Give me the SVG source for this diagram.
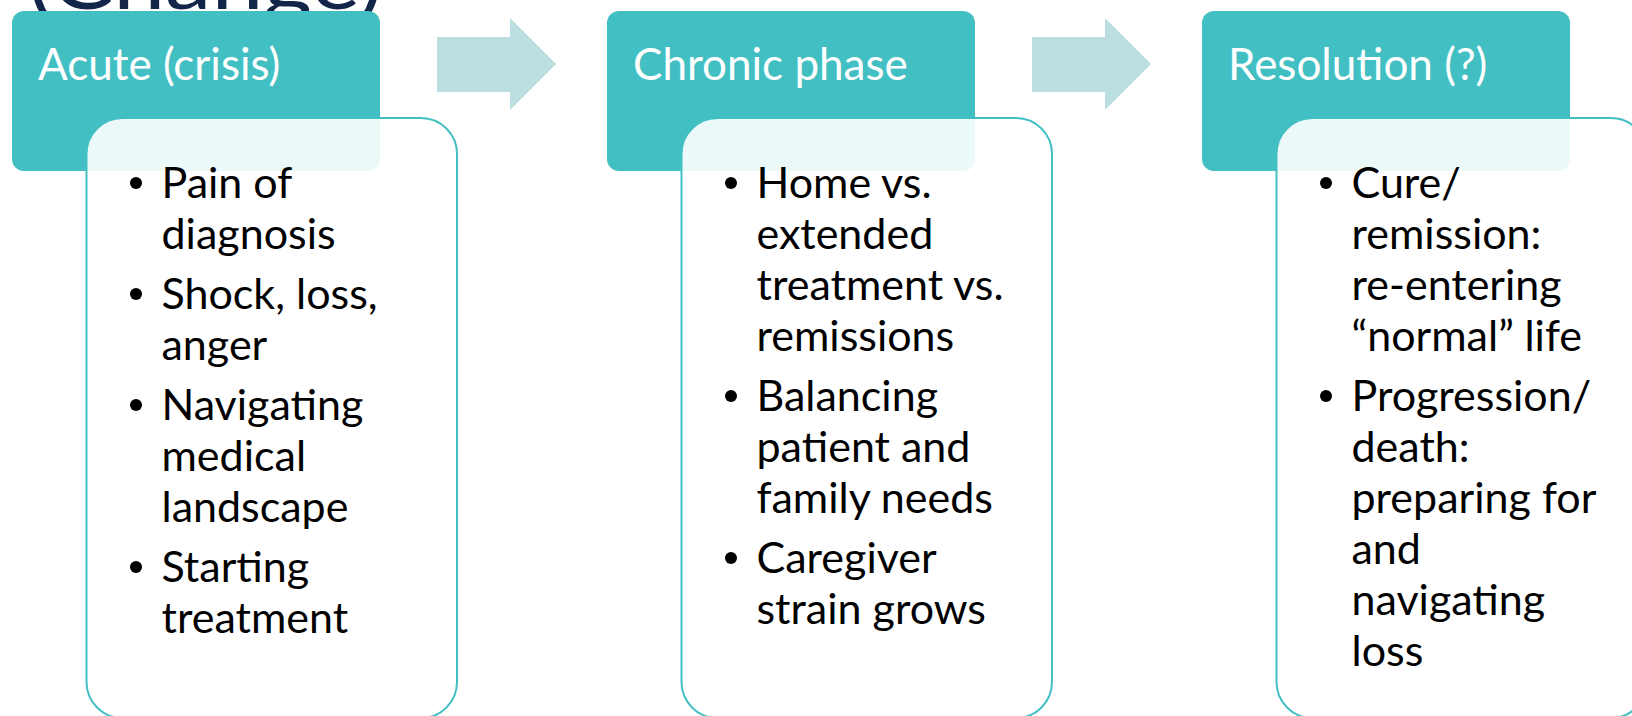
<svg xmlns="http://www.w3.org/2000/svg" width="1632" height="716" viewBox="0 0 1632 716">
  <style>
    .title { font-family: Lato, "Open Sans", sans-serif; font-size: 80px; fill: #14254a; }
    .head { fill: #42bfc3; }
    .head-label { font-family: Lato, "Liberation Sans", sans-serif; font-size: 44px; fill: #ffffff; }
    .card { fill: #ffffff; fill-opacity: 0.9; stroke: #42bfc3; stroke-width: 2; }
    .item { font-family: Lato, "Liberation Sans", sans-serif; font-size: 43px; fill: #000000; }
    .dot { fill: #000000; }
    .flow { fill: #bbdee0; }
  </style>

  <!-- slide title, mostly above the visible area -->
  <text class="title" x="28" y="9" textLength="355" lengthAdjust="spacingAndGlyphs">(Change)</text>

  <!-- connectors between the phases -->
  <g id="connectors">
    <polygon class="flow" points="437,37 510,37 510,18 556,64 510,110 510,92 437,92"/>
    <polygon class="flow" points="1032,37 1105,37 1105,18 1151,64 1105,110 1105,92 1032,92"/>
  </g>

  <!-- phase 1 -->
  <g id="phase-acute">
    <rect class="head" x="12" y="11" width="368" height="160" rx="12"/>
    <text class="head-label" x="38" y="80">Acute (crisis)</text>
    <rect class="card" x="86.5" y="118" width="370.5" height="600" rx="36"/>
    <circle class="dot" cx="136" cy="183" r="6"/>
    <circle class="dot" cx="136" cy="294" r="6"/>
    <circle class="dot" cx="136" cy="405" r="6"/>
    <circle class="dot" cx="136" cy="567" r="6"/>
    <text class="item">
      <tspan x="161.5" y="198">Pain of</tspan>
      <tspan x="161.5" y="249">diagnosis</tspan>
      <tspan x="161.5" y="309">Shock, loss,</tspan>
      <tspan x="161.5" y="360">anger</tspan>
      <tspan x="161.5" y="420">Navigating</tspan>
      <tspan x="161.5" y="471">medical</tspan>
      <tspan x="161.5" y="522">landscape</tspan>
      <tspan x="161.5" y="582">Starting</tspan>
      <tspan x="161.5" y="633">treatment</tspan>
    </text>
  </g>

  <!-- phase 2 -->
  <g id="phase-chronic">
    <rect class="head" x="607" y="11" width="368" height="160" rx="12"/>
    <text class="head-label" x="633" y="80">Chronic phase</text>
    <rect class="card" x="681.5" y="118" width="370.5" height="600" rx="36"/>
    <circle class="dot" cx="731" cy="183" r="6"/>
    <circle class="dot" cx="731" cy="396" r="6"/>
    <circle class="dot" cx="731" cy="558" r="6"/>
    <text class="item">
      <tspan x="756.5" y="198">Home vs.</tspan>
      <tspan x="756.5" y="249">extended</tspan>
      <tspan x="756.5" y="300">treatment vs.</tspan>
      <tspan x="756.5" y="351">remissions</tspan>
      <tspan x="756.5" y="411">Balancing</tspan>
      <tspan x="756.5" y="462">patient and</tspan>
      <tspan x="756.5" y="513">family needs</tspan>
      <tspan x="756.5" y="573">Caregiver</tspan>
      <tspan x="756.5" y="624">strain grows</tspan>
    </text>
  </g>

  <!-- phase 3 -->
  <g id="phase-resolution">
    <rect class="head" x="1202" y="11" width="368" height="160" rx="12"/>
    <text class="head-label" x="1228" y="80">Resolution (?)</text>
    <rect class="card" x="1276.5" y="118" width="370.5" height="600" rx="36"/>
    <circle class="dot" cx="1326" cy="183" r="6"/>
    <circle class="dot" cx="1326" cy="396" r="6"/>
    <text class="item">
      <tspan x="1351.5" y="198">Cure/</tspan>
      <tspan x="1351.5" y="249">remission:</tspan>
      <tspan x="1351.5" y="300">re-entering</tspan>
      <tspan x="1351.5" y="351">“normal” life</tspan>
      <tspan x="1351.5" y="411">Progression/</tspan>
      <tspan x="1351.5" y="462">death:</tspan>
      <tspan x="1351.5" y="513">preparing for</tspan>
      <tspan x="1351.5" y="564">and</tspan>
      <tspan x="1351.5" y="615">navigating</tspan>
      <tspan x="1351.5" y="666">loss</tspan>
    </text>
  </g>
</svg>
